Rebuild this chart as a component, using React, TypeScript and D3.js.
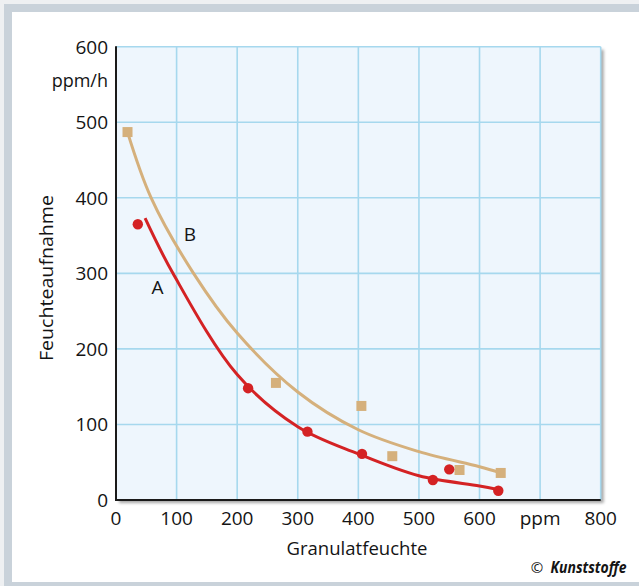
import React from "react";
import * as d3 from "d3";

const xTicks = [0, 100, 200, 300, 400, 500, 600, 700, 800];
const xTickLabels = ["0", "100", "200", "300", "400", "500", "600", "ppm", "800"];
const yTicks = [0, 100, 200, 300, 400, 500, 600];
const yTickLabels = ["0", "100", "200", "300", "400", "500", "600"];

// Series A (red dots)
const aPointsX = [36, 218, 316, 406, 523, 550, 631];
const aPointsY = [365, 148, 90.5, 61, 26.5, 40.6, 12.3];
// Series B (tan squares)
const bPointsX = [19, 264, 405, 456, 567, 635];
const bPointsY = [487, 155, 124.5, 58, 39.7, 35.8];

// Fitted curves
const aCurveX = [48, 94, 200, 300, 400, 500, 600, 630];
const aCurveY = [373, 300, 166, 97, 61, 32, 18.5, 14];
const bCurveX = [19, 58, 128, 200, 300, 400, 500, 600, 635];
const bCurveY = [487, 400, 300, 221, 143, 93, 64, 44, 36];

const W = 639;
const H = 586;
const left = 116;
const right = 600.7;
const top = 46.7;
const bottom = 500;

const RED = "#d42224";
const TAN = "#d5b07c";
const GRID = "#a6d8ee";
const FONT = "'Open Sans', 'Noto Sans', sans-serif";
const INK = "#141414";

export default function App() {
  const x = d3.scaleLinear().domain([0, 800]).range([left, right]);
  const y = d3.scaleLinear().domain([0, 600]).range([bottom, top]);
  const line = d3
    .line<[number, number]>()
    .x((d) => x(d[0]))
    .y((d) => y(d[1]))
    .curve(d3.curveCatmullRom.alpha(0.5));
  const aCurve = aCurveX.map((v, i) => [v, aCurveY[i]] as [number, number]);
  const bCurve = bCurveX.map((v, i) => [v, bCurveY[i]] as [number, number]);

  return (
    <div style={{ position: "fixed", left: 0, top: 0 }}>
      <svg width={W} height={H} style={{ display: "block" }}>
        <defs>
          <filter id="sh" x="-5%" y="-5%" width="115%" height="115%">
            <feDropShadow dx="3" dy="3" stdDeviation="1.5" floodColor="#000" floodOpacity="0.35" />
          </filter>
        </defs>
        <rect x={0} y={0} width={W} height={H} fill="#eef0f2" />
        <rect x={8} y={8} width={W + 10} height={578} fill="#fff" stroke="#c9d2da" strokeWidth={8} />
        {/* plot background with shadow */}
        <rect x={left} y={top} width={right - left} height={bottom - top} fill="#eef6fd" filter="url(#sh)" />
        {/* grid */}
        {xTicks.slice(1).map((t) => (
          <line key={"gx" + t} x1={x(t)} x2={x(t)} y1={top} y2={bottom} stroke={GRID} strokeWidth={1.6} />
        ))}
        {yTicks.slice(1).map((t) => (
          <line key={"gy" + t} x1={left} x2={right} y1={y(t)} y2={y(t)} stroke={GRID} strokeWidth={1.6} />
        ))}
        {/* axes */}
        <line x1={left} x2={left} y1={top - 0.5} y2={bottom + 1} stroke="#1a1a1a" strokeWidth={2} />
        <line x1={left - 1} x2={right} y1={bottom} y2={bottom} stroke="#1a1a1a" strokeWidth={2} />
        {/* tick labels */}
        {yTicks.map((t, i) => (
          <text key={"yl" + t} x={108} y={y(t)} dy="0.36em" textAnchor="end" fontFamily={FONT} fontSize={19} fill={INK}>
            {yTickLabels[i]}
          </text>
        ))}
        <text x={108} y={87} textAnchor="end" fontFamily={FONT} fontSize={18} fill={INK}>
          ppm/h
        </text>
        {xTicks.map((t, i) => (
          <text key={"xl" + t} x={x(t)} y={525} textAnchor="middle" fontFamily={FONT} fontSize={19} fill={INK}>
            {xTickLabels[i]}
          </text>
        ))}
        <text x={357} y={555} textAnchor="middle" fontFamily={FONT} fontSize={18.5} fill={INK} textLength={141} lengthAdjust="spacingAndGlyphs">
          Granulatfeuchte
        </text>
        <text
          transform={`translate(52.5,278) rotate(-90)`}
          textAnchor="middle"
          fontFamily={FONT}
          fontSize={18.5}
          fill={INK}
          textLength={166}
          lengthAdjust="spacingAndGlyphs"
        >
          Feuchteaufnahme
        </text>
        {/* curves */}
        <path d={line(bCurve) || ""} fill="none" stroke={TAN} strokeWidth={3} />
        <path d={line(aCurve) || ""} fill="none" stroke={RED} strokeWidth={3} />
        {/* markers */}
        {bPointsX.map((v, i) => (
          <rect key={"b" + i} x={x(v) - 5} y={y(bPointsY[i]) - 5} width={10} height={10} fill={TAN} />
        ))}
        {aPointsX.map((v, i) => (
          <circle key={"a" + i} cx={x(v)} cy={y(aPointsY[i])} r={5.2} fill={RED} />
        ))}
        {/* labels */}
        <text x={157.5} y={293.5} textAnchor="middle" fontFamily={FONT} fontSize={19} fill={INK}>
          A
        </text>
        <text x={190} y={241} textAnchor="middle" fontFamily={FONT} fontSize={19} fill={INK}>
          B
        </text>
        {/* copyright */}
        <text x={537} y={573} textAnchor="middle" fontFamily={FONT} fontSize={15} fill={INK}>
          ©
        </text>
        <text x={626.5} y={573} textAnchor="end" fontFamily={FONT} fontSize={15.5} fontWeight="bold" fontStyle="italic" fill={INK} textLength={76} lengthAdjust="spacingAndGlyphs">
          Kunststoffe
        </text>
      </svg>
    </div>
  );
}
